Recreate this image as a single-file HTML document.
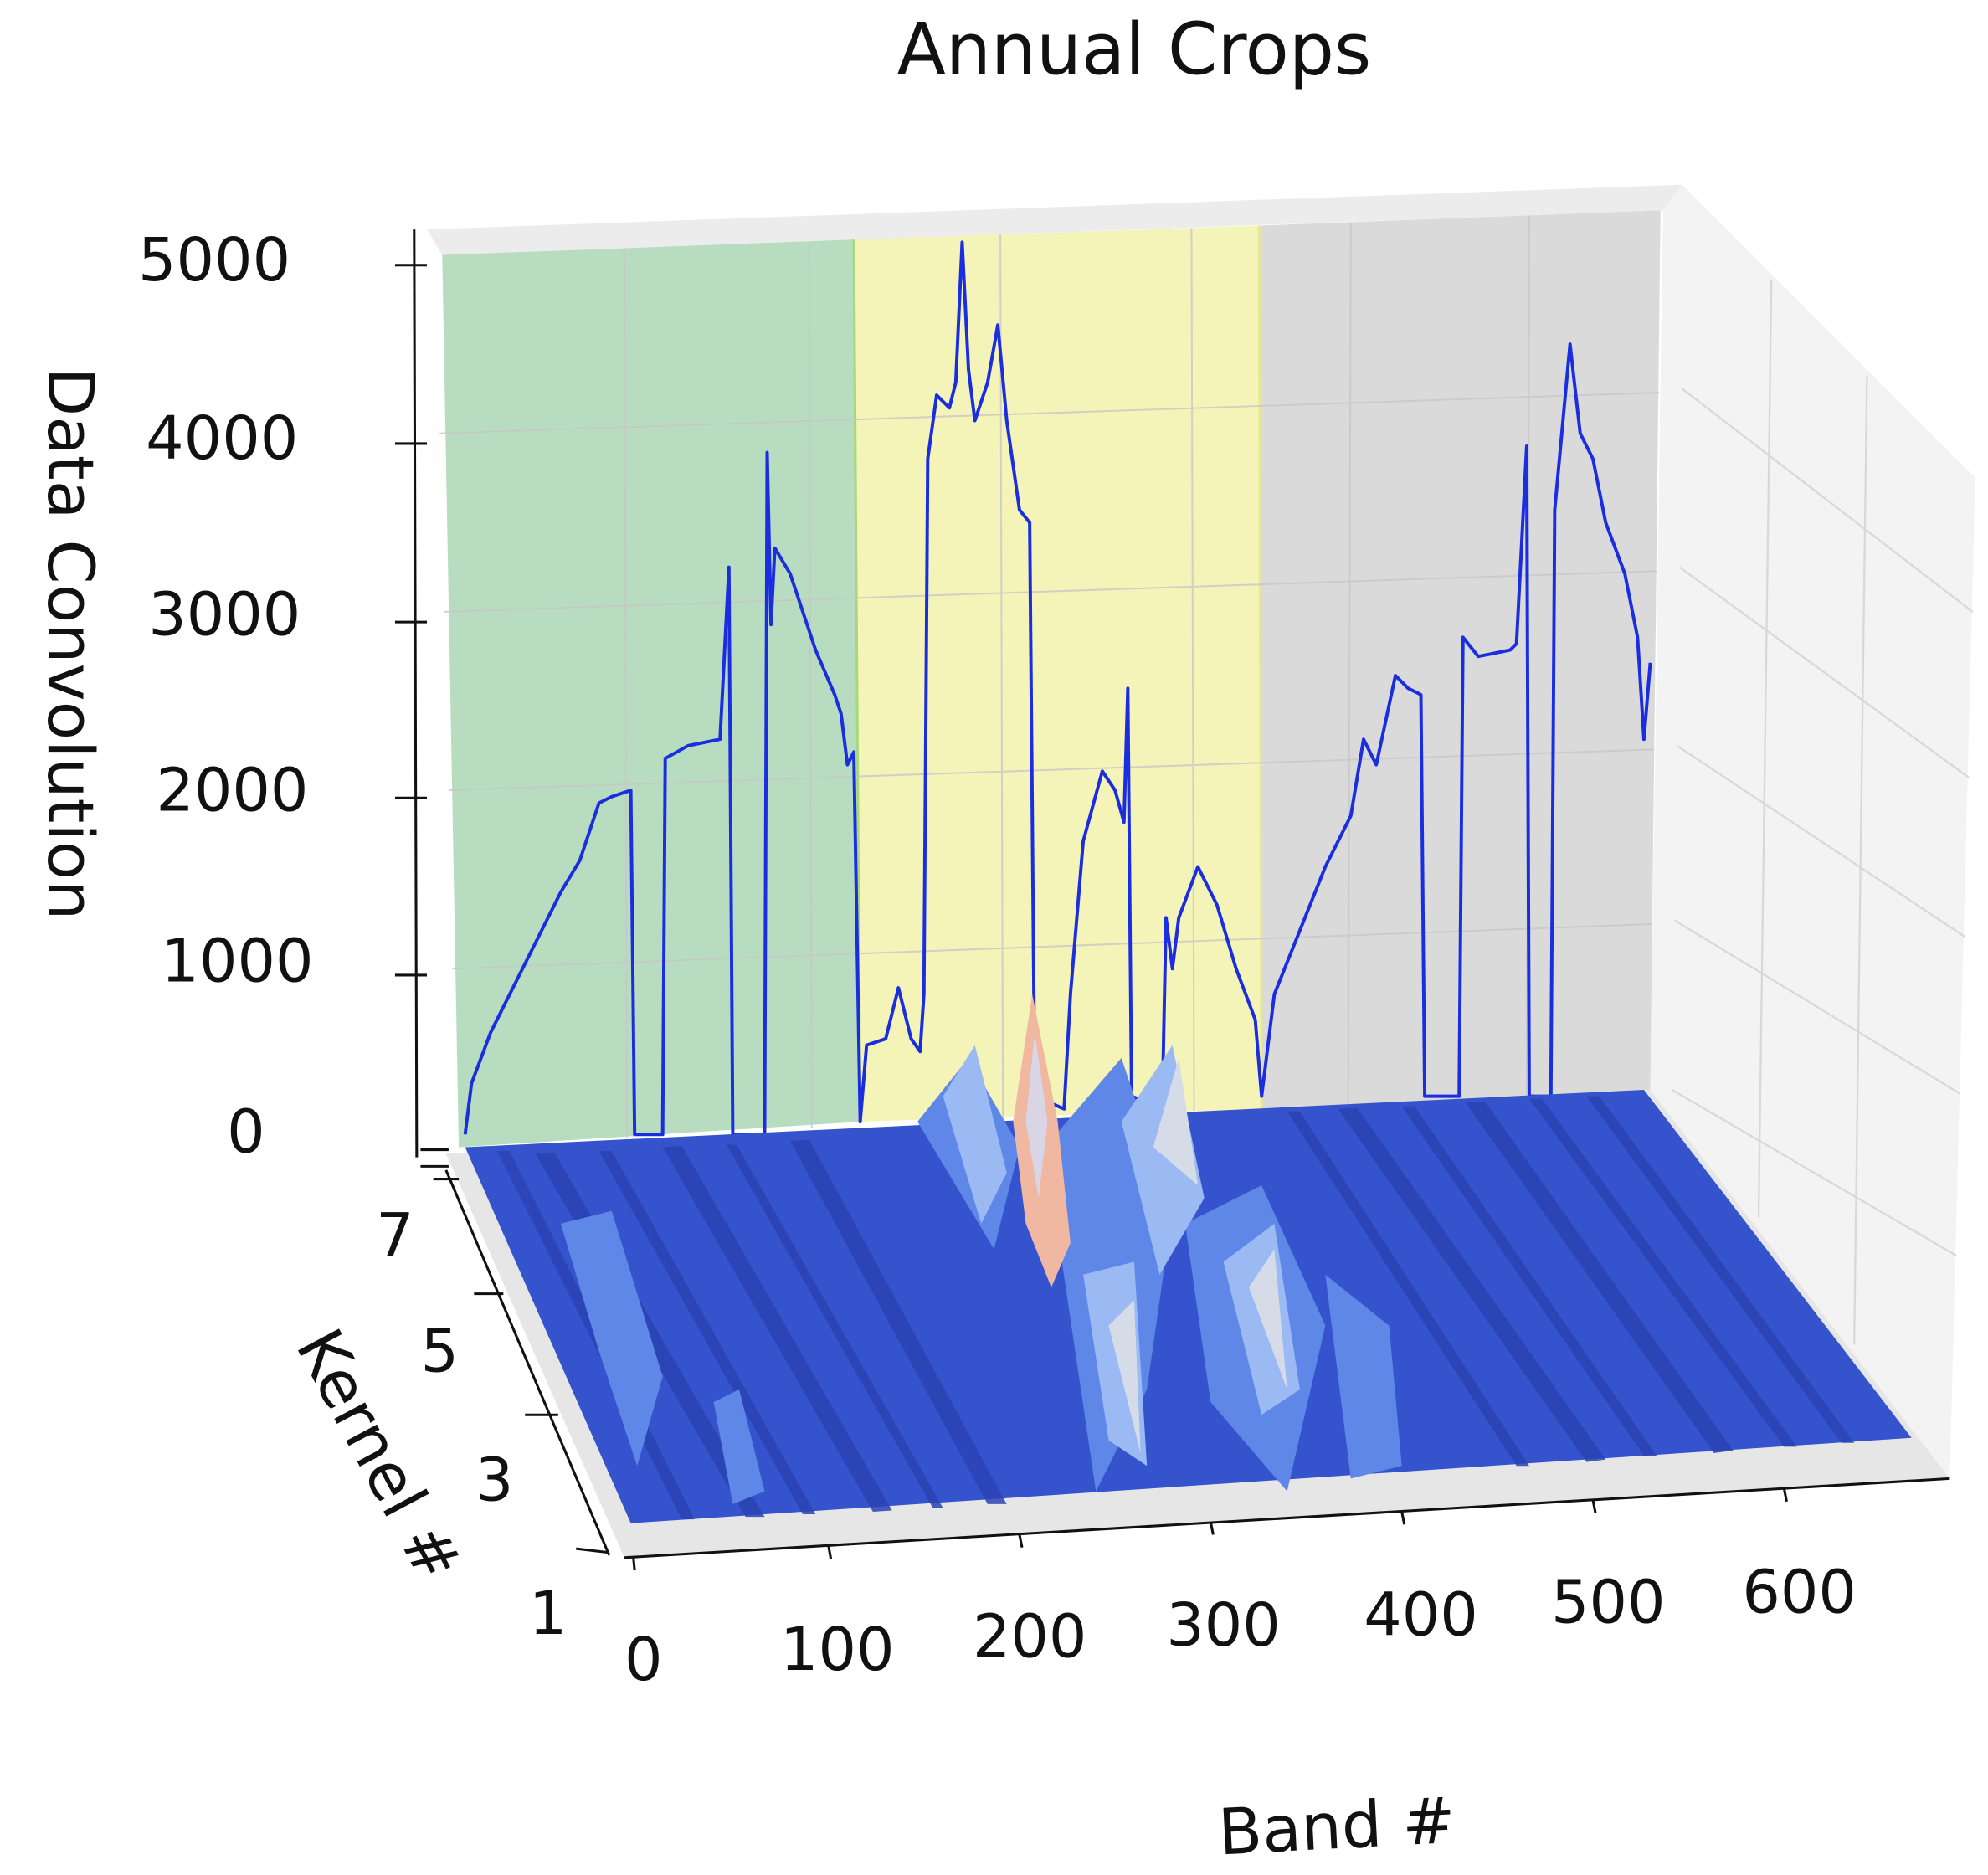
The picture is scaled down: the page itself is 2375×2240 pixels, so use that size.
<!DOCTYPE html>
<html><head><meta charset="utf-8"><style>
html,body{margin:0;padding:0;background:#fff;}
svg{display:block;}
text{font-family:"DejaVu Sans","Liberation Sans",sans-serif;fill:#111;}
</style></head><body>
<svg width="2375" height="2240" viewBox="0 0 1560 1471" preserveAspectRatio="none" xmlns="http://www.w3.org/2000/svg">
<rect width="1560" height="1471" fill="#fff"/>
<polygon points="335,180 1320,145 1305,165 347,200" fill="#ececec"/>
<polygon points="1305,165 1320,145 1550,375 1530,1160 1295,855" fill="#f3f3f3"/>
<polygon points="350,905 1295,855 1530,1160 490,1222" fill="#e6e6e6"/>
<g stroke="#d8d8d8" stroke-width="1.5" fill="none">
<line x1="1390" y1="220" x2="1380" y2="955"/><line x1="1465" y1="295" x2="1455" y2="1055"/>
<line x1="1320" y1="305" x2="1548" y2="480"/><line x1="1318" y1="445" x2="1545" y2="610"/>
<line x1="1316" y1="585" x2="1542" y2="735"/><line x1="1314" y1="722" x2="1538" y2="858"/>
<line x1="1312" y1="855" x2="1535" y2="985"/>
</g>
<polygon points="347,200 670,188 675,880 360,900" fill="#b7dcc0"/>
<polygon points="670,188 988,177 990,870 675,880" fill="#f4f3b8"/>
<polygon points="988,177 1303,165 1295,855 990,870" fill="#dadada"/>
<line x1="670" y1="188" x2="675" y2="880" stroke="#a8d87a" stroke-width="2"/>
<line x1="988" y1="177" x2="990" y2="870" stroke="#e8e890" stroke-width="2"/>
<g stroke="#c8c8c8" stroke-width="1.3" opacity="0.8">
<line x1="490" y1="195" x2="492" y2="893"/><line x1="635" y1="190" x2="637" y2="885"/>
<line x1="785" y1="184" x2="787" y2="878"/><line x1="935" y1="179" x2="937" y2="872"/>
<line x1="1060" y1="175" x2="1058" y2="866"/><line x1="1200" y1="170" x2="1198" y2="860"/>
<line x1="345" y1="340" x2="1302" y2="308"/><line x1="348" y1="480" x2="1300" y2="448"/>
<line x1="352" y1="620" x2="1298" y2="588"/><line x1="355" y1="760" x2="1296" y2="725"/>
</g>
<polyline fill="none" stroke="#1a2ee0" stroke-width="2.6" stroke-linejoin="round" points="365,890 370,850 385,810 400,780 420,740 440,700 455,675 470,630 480,625 495,620 498,890 520,890 522,595 540,585 565,580 572,445 575,890 600,890 602,355 605,490 608,430 620,450 640,510 655,545 660,560 665,600 670,590 675,880 680,820 695,815 705,775 715,815 722,825 725,780 728,360 735,310 745,320 750,300 755,190 760,290 765,330 775,300 783,255 790,330 800,400 808,410 812,860 835,870 840,780 850,660 865,605 875,620 882,645 885,540 888,860 912,870 915,720 920,760 925,720 940,680 955,710 970,760 985,800 990,860 1000,780 1020,730 1040,680 1060,640 1070,580 1080,600 1095,530 1105,540 1115,545 1118,860 1145,860 1148,500 1160,515 1185,510 1190,505 1198,350 1200,860 1217,860 1220,400 1232,270 1240,340 1250,360 1260,410 1275,450 1285,500 1290,580 1295,520"/>
<polygon points="365,900 1290,855 1500,1128 495,1195" fill="#3553cc"/>
<g fill="#2a43b4" opacity="0.85">
<polygon points="390,903 400,903 545,1192 535,1192"/>
<polygon points="420,905 435,904 600,1190 585,1190"/>
<polygon points="470,903 480,903 640,1188 630,1188"/>
<polygon points="520,900 535,899 700,1185 685,1186"/>
<polygon points="570,898 578,898 740,1183 732,1183"/>
<polygon points="620,895 635,894 790,1180 775,1180"/>
<polygon points="1010,872 1020,872 1200,1150 1190,1150"/>
<polygon points="1050,870 1065,869 1260,1145 1245,1147"/>
<polygon points="1100,868 1110,868 1300,1142 1290,1142"/>
<polygon points="1150,865 1165,864 1360,1138 1345,1140"/>
<polygon points="1200,862 1210,862 1410,1135 1400,1135"/>
<polygon points="1245,860 1255,860 1455,1132 1445,1132"/>
</g>
<g fill="#5f87e8">
<polygon points="440,960 480,950 520,1080 500,1150 470,1060"/>
<polygon points="720,880 760,830 800,900 780,980"/>
<polygon points="820,900 880,830 920,950 900,1090 860,1170"/>
<polygon points="930,960 990,930 1040,1040 1010,1170 950,1100"/>
<polygon points="1040,1000 1090,1040 1100,1150 1060,1160"/>
<polygon points="560,1100 580,1090 600,1170 575,1180"/>
</g>
<g fill="#9bbaf4">
<polygon points="740,860 765,820 790,920 770,960"/>
<polygon points="880,880 920,820 945,940 910,1000"/>
<polygon points="850,1000 890,990 900,1150 870,1130"/>
<polygon points="960,990 1000,960 1020,1090 990,1110"/>
</g>
<g fill="#d6dbe8">
<polygon points="905,900 925,830 940,930"/>
<polygon points="870,1040 890,1020 895,1140"/>
<polygon points="980,1010 1000,980 1010,1090"/>
</g>
<polygon points="795,880 810,780 830,880 840,975 825,1010 805,960" fill="#f0b8a0"/>
<polygon points="805,880 812,810 822,880 815,940" fill="#d8d6e6"/>
<g stroke="#111" stroke-width="2" fill="none">
<line x1="325" y1="180" x2="327" y2="908"/>
<line x1="310" y1="208" x2="335" y2="208"/><line x1="310" y1="348" x2="335" y2="348"/>
<line x1="310" y1="488" x2="335" y2="488"/><line x1="310" y1="626" x2="335" y2="626"/>
<line x1="310" y1="765" x2="335" y2="765"/><line x1="330" y1="902" x2="352" y2="902"/><line x1="330" y1="915" x2="352" y2="915"/>
<line x1="350" y1="918" x2="478" y2="1220"/>
<line x1="340" y1="925" x2="360" y2="925"/><line x1="372" y1="1015" x2="395" y2="1015"/>
<line x1="412" y1="1110" x2="438" y2="1110"/><line x1="452" y1="1215" x2="478" y2="1218"/>
<line x1="490" y1="1222" x2="1530" y2="1160"/>
<line x1="497" y1="1222" x2="498" y2="1232"/><line x1="650" y1="1212" x2="652" y2="1223"/>
<line x1="800" y1="1204" x2="802" y2="1214"/><line x1="950" y1="1194" x2="952" y2="1204"/>
<line x1="1100" y1="1186" x2="1102" y2="1196"/><line x1="1250" y1="1177" x2="1252" y2="1187"/>
<line x1="1400" y1="1168" x2="1402" y2="1178"/>
</g>
<text x="890" y="58" font-size="56" text-anchor="middle">Annual Crops</text>
<g font-size="47" text-anchor="end">
<text x="228" y="220">5000</text><text x="234" y="360">4000</text><text x="236" y="498">3000</text>
<text x="242" y="636">2000</text><text x="246" y="770">1000</text><text x="208" y="904">0</text>
</g>
<g font-size="47" text-anchor="middle">
<text x="310" y="985">7</text><text x="345" y="1076">5</text><text x="388" y="1177">3</text><text x="430" y="1282">1</text>
<text x="505" y="1318">0</text><text x="657" y="1310">100</text><text x="808" y="1300">200</text>
<text x="960" y="1291">300</text><text x="1115" y="1283">400</text><text x="1262" y="1273">500</text><text x="1412" y="1265">600</text>
</g>
<text transform="translate(38,505) rotate(90)" font-size="50" text-anchor="middle">Data Convolution</text>
<text transform="translate(282,1150) rotate(62)" font-size="50" text-anchor="middle">Kernel #</text>
<text transform="translate(1050,1450) rotate(-3)" font-size="50" text-anchor="middle">Band #</text>
</svg>
</body></html>
